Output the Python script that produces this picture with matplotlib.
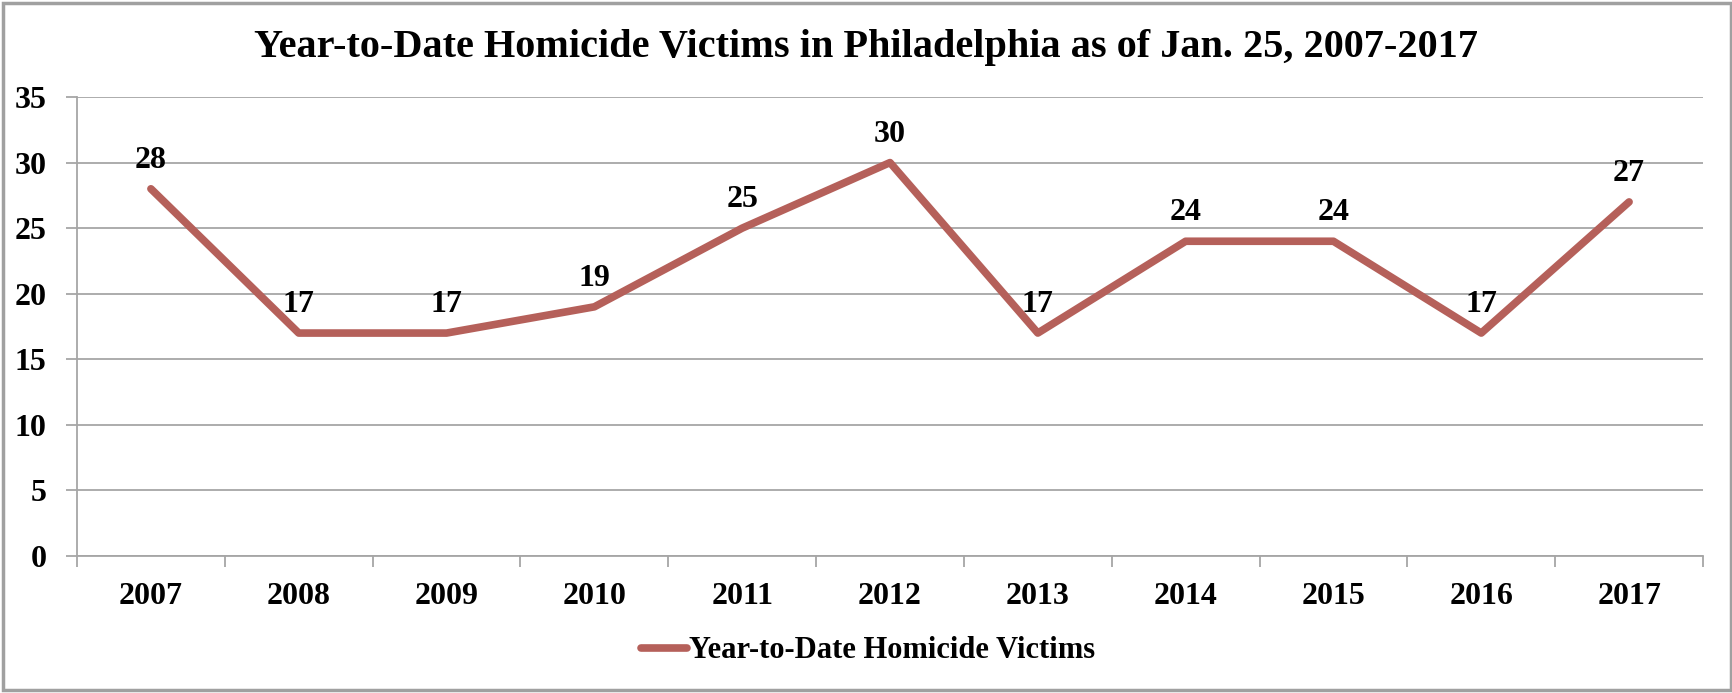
import matplotlib.pyplot as plt
from matplotlib.patches import Rectangle

years = ["2007", "2008", "2009", "2010", "2011", "2012", "2013", "2014", "2015", "2016", "2017"]
victims = [28, 17, 17, 19, 25, 30, 17, 24, 24, 17, 27]
y_ticks = [0, 5, 10, 15, 20, 25, 30, 35]

LINE_COLOR = "#B5605A"
GRID_COLOR = "#A6A6A6"
FONT = ["Liberation Serif", "DejaVu Serif"]
LABEL_SIZE = 23

W, H = 1733, 693
fig = plt.figure(figsize=(W / 100, H / 100), dpi=100)
ax = fig.add_axes([77 / W, 1 - 556 / H, (1703 - 77) / W, (556 - 97) / H])

x = list(range(len(years)))
ax.plot(x, victims, color=LINE_COLOR, linewidth=5.5, solid_capstyle="round",
        label="Year-to-Date Homicide Victims")

# data labels above each point
for xi, v in zip(x, victims):
    ax.annotate(str(v), (xi, v), xytext=(0, 20.5), textcoords="offset points",
                ha="center", va="center", fontsize=LABEL_SIZE, fontweight="bold", family=FONT)

ax.set_xlim(-0.5, len(years) - 0.5)
ax.set_ylim(0, 35)
ax.set_yticks(y_ticks)
ax.set_yticklabels([str(t) for t in y_ticks])
ax.grid(axis="y", color=GRID_COLOR, linewidth=1.3)
ax.set_axisbelow(True)

# category ticks sit between the years
ax.set_xticks([i - 0.5 for i in range(len(years) + 1)])
ax.set_xticklabels([])
ax.set_xticks(x, minor=True)
ax.set_xticklabels(years, minor=True)
ax.tick_params(axis="x", which="major", length=8, width=1.3, color=GRID_COLOR, direction="out")
ax.tick_params(axis="x", which="minor", length=0, pad=19)
ax.tick_params(axis="y", length=8, width=1.3, color=GRID_COLOR, pad=14)

for lbl in ax.get_xticklabels(minor=True) + ax.get_yticklabels():
    lbl.set_fontsize(LABEL_SIZE)
    lbl.set_fontweight("bold")
    lbl.set_family(FONT)

for side in ["top", "right"]:
    ax.spines[side].set_visible(False)
for side in ["left", "bottom"]:
    ax.spines[side].set_color(GRID_COLOR)
    ax.spines[side].set_linewidth(1.3)

fig.text(866 / W, 1 - 47 / H, "Year-to-Date Homicide Victims in Philadelphia as of Jan. 25, 2007-2017",
         ha="center", va="center", fontsize=29, fontweight="bold", family=FONT)

leg = fig.legend(loc="center", bbox_to_anchor=(868 / W, 1 - 651 / H), frameon=False,
                 prop={"family": FONT, "weight": "bold", "size": 22},
                 handlelength=1.5, handletextpad=0.05)

# outer chart border
fig.patches.append(Rectangle((3 / W, 3 / H), (1731 - 3) / W, (690 - 3) / H,
                             transform=fig.transFigure, fill=False,
                             edgecolor="#A0A0A0", linewidth=2.5))

fig.savefig("out.png", dpi=100)
